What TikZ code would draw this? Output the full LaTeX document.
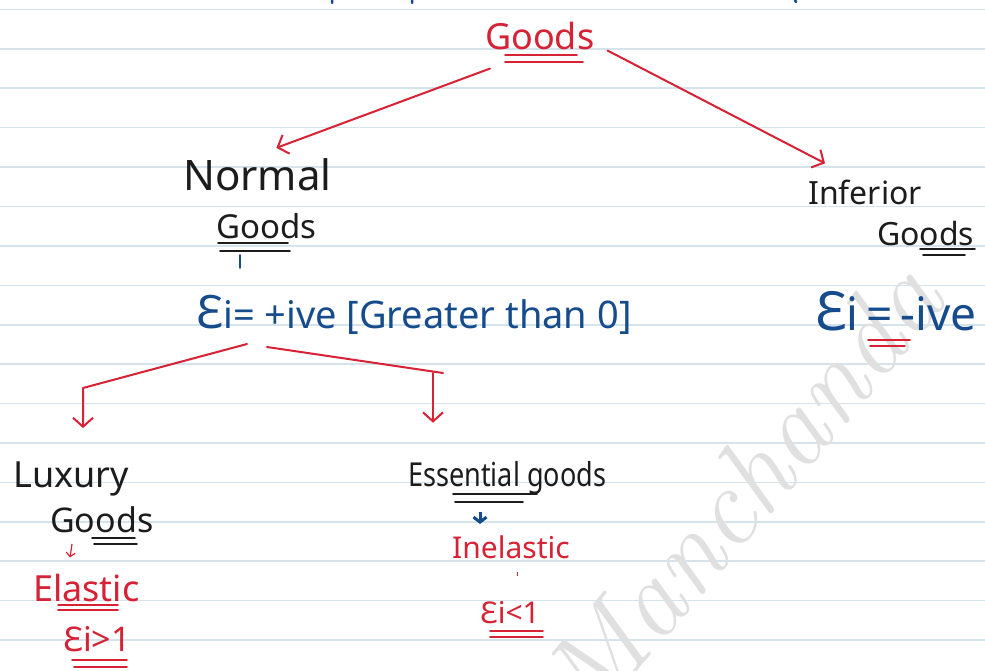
\documentclass[tikz,border=0pt]{standalone}
\usepackage{fontspec}
\setmainfont{Noto Sans}
\newfontfamily\wmfont{Latin Modern Roman}
\newfontfamily\narrowfont[FakeStretch=0.82]{Noto Sans}
\usetikzlibrary{arrows.meta,calc}

\definecolor{redink}{RGB}{214,34,52}
\definecolor{blueink}{RGB}{22,76,140}
\definecolor{blackink}{RGB}{28,28,28}
\definecolor{ruleline}{RGB}{213,228,236}
\definecolor{wmgray}{RGB}{224,224,224}

\begin{document}
\begin{tikzpicture}[
  x=1pt,y=-1pt,
  sz/.style={font=\fontsize{#1}{#1}\selectfont},
  hand/.style={inner sep=0pt, anchor=base west},
  redtext/.style={hand, text=redink},
  blacktext/.style={hand, text=blackink},
  bluetext/.style={hand, text=blueink},
  redline/.style={draw=redink, line width=2pt, line cap=round, line join=round},
  branch/.style={redline, -{Straight Barb[length=9pt,width=20pt]}},
  smallarrow/.style={draw=redink, line width=1.2pt, -{Straight Barb[length=4pt,width=9pt]}},
  bluearrow/.style={draw=blueink, line width=3pt, -{Straight Barb[length=5pt,width=13pt]}},
  ulred/.style={draw=redink, line width=1.8pt, line cap=round},
  ulblack/.style={draw=blackink, line width=1.8pt, line cap=round},
  rule/.style={draw=ruleline, line width=1.6pt}
]
\path[use as bounding box] (0,0) rectangle (985,671);
\fill[white] (0,0) rectangle (985,671);

% Ruled paper
\foreach \k in {0,...,16}
  \draw[rule] (0,{9.5+39.4*\k}) -- (985,{9.5+39.4*\k});

% Watermark
\node[rotate=50, text=wmgray, font=\wmfont\itshape\fontsize{112}{112}\selectfont] (mark) at (742,488) {Manchanda};

% Ends of the line above, cut off
\draw[blueink, line width=2.5pt, line cap=round] (332,0) -- (332,3) (412,0) -- (412,3) (795,0) -- (796,2);

% Top of the tree
\node[redtext, sz=36] (goods) at (485,50) {Goods};
\draw[ulred] (505,55) -- (577,55) (505,62) -- (583,62);

% Normal goods
\node[blacktext, sz=42] (normal) at (183,191) {Normal};
\node[blacktext, sz=33] (normalgd) at (216,238) {Goods};
\draw[ulblack] (218,243) -- (288,243) (220,251) -- (290,251);
\draw[blueink, line width=1.8pt, line cap=round]
  ($(normalgd.base west)+(24,17)$) -- ($(normalgd.base west)+(24,30)$);
\node[bluetext, sz=38] (eplus) at (196,328)
  {{\fontsize{46}{46}\selectfont Ɛ}i= +ive [Greater than 0]};

% Inferior goods
\node[blacktext, sz=32] (inferior) at (808,205) {Inferior};
\node[blacktext, sz=32] (infgd) at (877,245) {Goods};
\draw[ulblack] (920,249) -- (975,249) (923,255) -- (965,255);
\node[bluetext, sz=46] (eminus) at (815,330)
  {{\fontsize{54}{54}\selectfont Ɛ}i\,=\,-ive};
\draw[ulred] (868,340) -- (910,340) (870,346) -- (905,346);

\draw[branch] ($(goods.south west)+(5,18)$) -- ($(normal.north)+(19,-11)$);
\draw[branch] ($(goods.south east)+(13,0)$) -- ($(inferior.north west)+(17,-17)$);

% Luxury goods
\node[blacktext, sz=36] (luxury) at (13,487) {Luxury};
\node[blacktext, sz=34] (luxgd) at (50,532) {Goods};
\draw[ulblack] (92,538) -- (135,538) (94,544) -- (137,544);
\node[redtext, sz=36] (elastic) at (33,601) {Elastic};
\draw[ulred] (58,605) -- (118,605) (58,610) -- (118,610);
\node[redtext, sz=34] (egt) at (63,651) {Ɛi>1};
\draw[ulred] (72,660) -- (127,660) (74,667) -- (127,667);
\draw[smallarrow] ($(luxgd.base west)+(22,12)$) -- ($(elastic.north west)+(37,-16)$);

% Essential goods
\node[blacktext, font=\narrowfont\fontsize{33}{33}\selectfont] (essential) at (408,486) {Essential goods};
\draw[ulblack] (453,494) -- (537,494) (455,502) -- (523,502);
\node[redtext, sz=30] (inelastic) at (452,558) {Inelastic};
\draw[redink, line width=1pt] ($(inelastic.base west)+(65,14)$) -- ($(inelastic.base west)+(65,18)$);
\node[redtext, sz=30] (elt) at (480,623) {Ɛi<1};
\draw[ulred] (490,631) -- (543,631) (490,637) -- (543,637);
\draw[bluearrow] ($(essential.base west)+(72,26)$) -- ($(inelastic.north west)+(28,-11)$);

% Split below the normal goods
\coordinate (splitL) at ($(eplus.base west)+(51,16)$);
\coordinate (splitR) at ($(eplus.base west)+(71,19)$);
\coordinate (cornerL) at (83,388);
\coordinate (cornerR) at (443,373);
\draw[branch, shorten >=33pt] (splitL) -- (cornerL) -- (cornerL |- luxury.north);
\draw[redline] (splitR) -- (cornerR);
\draw[branch, shorten >=38pt] ([xshift=-10pt]cornerR) -- ([xshift=-10pt]cornerR |- essential.north);

\end{tikzpicture}
\end{document}
